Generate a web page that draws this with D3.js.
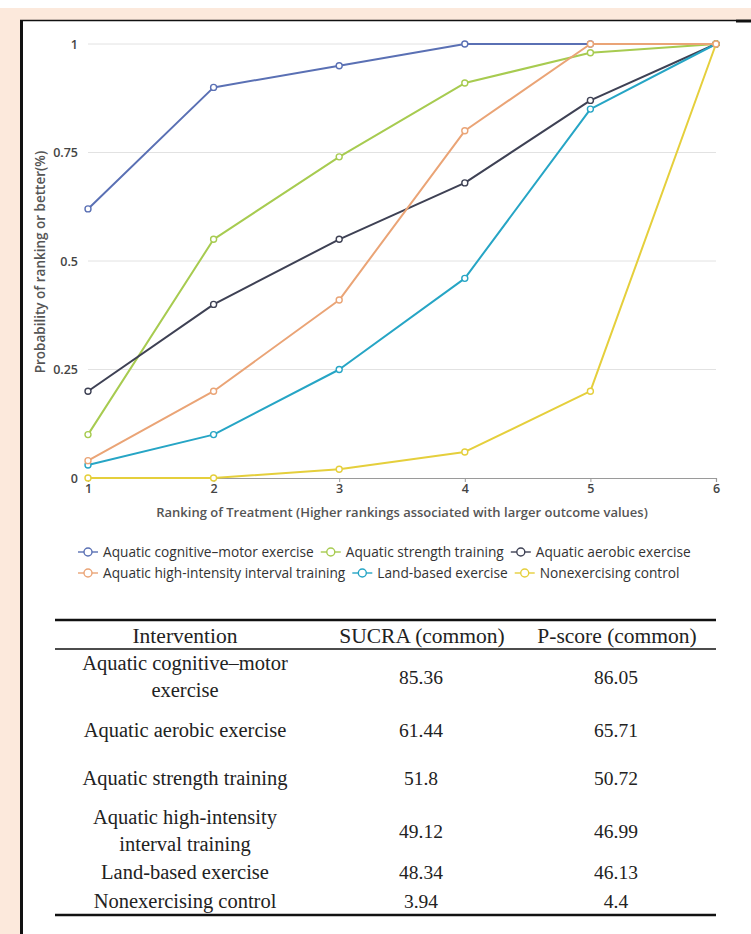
<!DOCTYPE html>
<html>
<head>
<meta charset="utf-8">
<script src="https://cdn.jsdelivr.net/npm/d3@7"></script>
<style>
  html, body { margin: 0; padding: 0; background: #ffffff; }
  svg { display: block; }
</style>
</head>
<body>
<svg id="chart" width="751" height="934"></svg>
<script>
// Cumulative ranking probabilities (rank 1..6) for each intervention
const ranks = [1, 2, 3, 4, 5, 6];
const seriesNames = [
  "Aquatic cognitive–motor exercise",
  "Aquatic strength training",
  "Aquatic aerobic exercise",
  "Aquatic high-intensity interval training",
  "Land-based exercise",
  "Nonexercising control"
];
const cognitiveMotor = [0.62, 0.90, 0.95, 1.00, 1.00, 1.00];
const strength       = [0.10, 0.55, 0.74, 0.91, 0.98, 1.00];
const aerobic        = [0.20, 0.40, 0.55, 0.68, 0.87, 1.00];
const hiit           = [0.04, 0.20, 0.41, 0.80, 1.00, 1.00];
const landBased      = [0.03, 0.10, 0.25, 0.46, 0.85, 1.00];
const nonExercising  = [0.00, 0.00, 0.02, 0.06, 0.20, 1.00];
const seriesColors = ["#5a70b4", "#a7cb50", "#3e4154", "#eaa476", "#26a5c5", "#e5cf3c"];
const yTicks = [0, 0.25, 0.5, 0.75, 1];
const yTickLabels = ["0", "0.25", "0.5", "0.75", "1"];

// Summary table
const tableHeaders = ["Intervention", "SUCRA (common)", "P-score (common)"];
const tableInterventions = [
  ["Aquatic cognitive–motor", "exercise"],
  ["Aquatic aerobic exercise"],
  ["Aquatic strength training"],
  ["Aquatic high-intensity", "interval training"],
  ["Land-based exercise"],
  ["Nonexercising control"]
];
const sucra  = ["85.36", "61.44", "51.8", "49.12", "48.34", "3.94"];
const pscore = ["86.05", "65.71", "50.72", "46.99", "46.13", "4.4"];

const series = seriesNames.map((name, i) => ({
  name,
  color: seriesColors[i],
  values: [cognitiveMotor, strength, aerobic, hiit, landBased, nonExercising][i]
}));

const svg = d3.select("#chart");
const W = 751, H = 934;

// Page frame
svg.append("rect").attr("x", 0).attr("y", 0).attr("width", W).attr("height", H).attr("fill", "#ffffff");
svg.append("rect").attr("x", 0).attr("y", 8).attr("width", W).attr("height", 12).attr("fill", "#fce9dc");
svg.append("rect").attr("x", 0).attr("y", 8).attr("width", 20).attr("height", H - 8).attr("fill", "#fce9dc");
svg.append("rect").attr("x", 20).attr("y", 20).attr("width", W - 20).attr("height", H - 20).attr("fill", "#ffffff");
svg.append("line").attr("x1", 20).attr("x2", 736).attr("y1", 20.5).attr("y2", 20.5)
  .attr("stroke", "#111").attr("stroke-width", 1.6);
svg.append("line").attr("x1", 736).attr("x2", W).attr("y1", 21).attr("y2", 21)
  .attr("stroke", "#111").attr("stroke-width", 3);
svg.append("line").attr("x1", 21.5).attr("x2", 21.5).attr("y1", 20).attr("y2", H)
  .attr("stroke", "#111").attr("stroke-width", 3);

// Plot area
const x = d3.scaleLinear().domain([1, 6]).range([88, 716]);
const y = d3.scaleLinear().domain([0, 1]).range([478, 44]);
const font = "'Open Sans', 'Noto Sans', sans-serif";

const grid = svg.append("g");
grid.selectAll("line").data(yTicks.filter(d => d > 0)).join("line")
  .attr("x1", x(1)).attr("x2", x(6))
  .attr("y1", d => y(d)).attr("y2", d => y(d))
  .attr("stroke", "#e2e2e2").attr("stroke-width", 1);

const yAxis = svg.append("g").attr("transform", `translate(${x(1)},0)`)
  .call(d3.axisLeft(y).tickValues(yTicks).tickSize(0).tickPadding(10)
    .tickFormat((d, i) => yTickLabels[i]));
yAxis.select(".domain").remove();
yAxis.selectAll("text").attr("font-family", font).attr("font-size", 12.5)
  .attr("font-weight", 600).attr("fill", "#444");

const xAxis = svg.append("g").attr("transform", `translate(0,${y(0)})`)
  .call(d3.axisBottom(x).tickValues(ranks).tickSize(4).tickPadding(2).tickFormat(d3.format("d")));
xAxis.select(".domain").attr("stroke", "#9a9a9a").attr("stroke-width", 1.2);
xAxis.selectAll(".tick line").attr("stroke", "#9a9a9a");
xAxis.selectAll("text").attr("font-family", font).attr("font-size", 12.5)
  .attr("font-weight", 600).attr("fill", "#444");

svg.append("text")
  .attr("transform", `translate(45,262) rotate(-90)`)
  .attr("text-anchor", "middle").attr("font-family", font).attr("font-size", 13.5)
  .attr("font-weight", 600).attr("fill", "#555")
  .text("Probability of ranking or better(%)");

svg.append("text")
  .attr("x", (x(1) + x(6)) / 2).attr("y", 517)
  .attr("text-anchor", "middle").attr("font-family", font).attr("font-size", 13)
  .attr("font-weight", 600).attr("fill", "#555")
  .text("Ranking of Treatment (Higher rankings associated with larger outcome values)");

// Lines and open-circle markers
const line = d3.line().x((d, i) => x(ranks[i])).y(d => y(d));
const drawOrder = [0, 1, 2, 4, 5, 3];
const plot = svg.append("g");
drawOrder.forEach(k => {
  const s = series[k];
  const g = plot.append("g");
  g.append("path").datum(s.values).attr("d", line)
    .attr("fill", "none").attr("stroke", s.color).attr("stroke-width", 2)
    .attr("stroke-linejoin", "round");
  g.selectAll("circle").data(s.values).join("circle")
    .attr("cx", (d, i) => x(ranks[i])).attr("cy", d => y(d)).attr("r", 3)
    .attr("fill", "#fff").attr("stroke", s.color).attr("stroke-width", 1.4);
});

// Legend (two rows)
const legendRows = [[0, 1, 2], [3, 4, 5]];
const legendY = [552, 573];
legendRows.forEach((row, r) => {
  let cx = 78;
  row.forEach(k => {
    const s = series[k];
    const g = svg.append("g").attr("transform", `translate(${cx},${legendY[r]})`);
    g.append("line").attr("x1", 0).attr("x2", 20).attr("y1", 0).attr("y2", 0)
      .attr("stroke", s.color).attr("stroke-width", 1.4);
    g.append("circle").attr("cx", 10).attr("cy", 0).attr("r", 4)
      .attr("fill", "#fff").attr("stroke", s.color).attr("stroke-width", 1.4);
    const t = g.append("text").attr("x", 25).attr("y", 4.5)
      .attr("font-family", font).attr("font-size", 13.7).attr("fill", "#333")
      .text(s.name);
    cx += 25 + t.node().getComputedTextLength() + 7;
  });
});

// Table
const serif = "'Liberation Serif', 'Times New Roman', serif";
const colX = [185, 422, 617];
const tableLeft = 55, tableRight = 716;
svg.append("line").attr("x1", tableLeft).attr("x2", tableRight).attr("y1", 620).attr("y2", 620)
  .attr("stroke", "#111").attr("stroke-width", 2.5);
svg.append("line").attr("x1", tableLeft).attr("x2", tableRight).attr("y1", 649).attr("y2", 649)
  .attr("stroke", "#111").attr("stroke-width", 1.3);
svg.append("line").attr("x1", tableLeft).attr("x2", tableRight).attr("y1", 915).attr("y2", 915)
  .attr("stroke", "#111").attr("stroke-width", 2.5);

svg.append("g").selectAll("text").data(tableHeaders).join("text")
  .attr("x", (d, i) => colX[i]).attr("y", 643)
  .attr("text-anchor", "middle").attr("font-family", serif).attr("font-size", 21.5)
  .attr("fill", "#222").text(d => d);

const rowCenters = [677, 730, 778, 831, 872, 901];
const lineGap = 27;
tableInterventions.forEach((lines, i) => {
  const cy = rowCenters[i];
  lines.forEach((ln, j) => {
    svg.append("text")
      .attr("x", colX[0]).attr("y", cy + (j - (lines.length - 1) / 2) * lineGap + 6.5)
      .attr("text-anchor", "middle").attr("font-family", serif).attr("font-size", 20.5)
      .attr("fill", "#222").text(ln);
  });
  [sucra, pscore].forEach((col, c) => {
    svg.append("text")
      .attr("x", colX[c + 1] - 1).attr("y", cy + 6.5)
      .attr("text-anchor", "middle").attr("font-family", serif).attr("font-size", 19.5)
      .attr("fill", "#222").text(col[i]);
  });
});
</script>
</body>
</html>
